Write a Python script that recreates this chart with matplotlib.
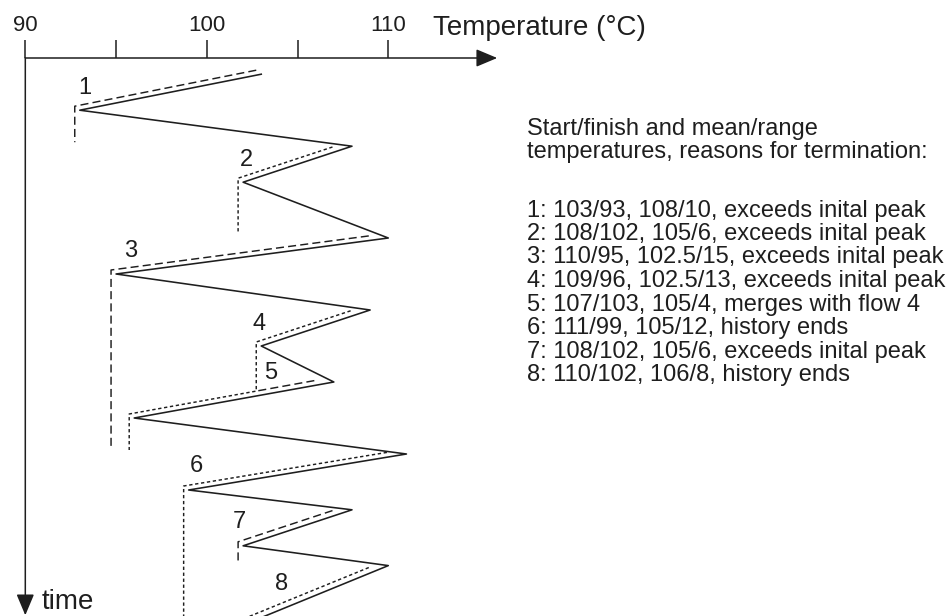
import matplotlib
matplotlib.use("Agg")
import matplotlib.pyplot as plt
from matplotlib import transforms
from matplotlib.patches import ArrowStyle

plt.rcParams["font.family"] = ["Liberation Sans", "DejaVu Sans"]
plt.rcParams["lines.scale_dashes"] = False

# Temperature history: alternating peaks and valleys (deg C) and their times
temps = [103, 93, 108, 102, 110, 95, 109, 103, 107, 96, 111, 99, 108, 102, 110, 102]
times = [0.45, 1.45, 2.45, 3.45, 5.0, 6.0, 7.0, 8.0, 9.0, 10.0, 11.0, 12.0,
         12.55, 13.55, 14.1, 15.75]

major_ticks = [90, 100, 110]
minor_ticks = [95, 105]
axis_end = 116.0

header_lines = ["Start/finish and mean/range",
                "temperatures, reasons for termination:"]
summary_lines = [
    "1: 103/93, 108/10, exceeds inital peak",
    "2: 108/102, 105/6, exceeds inital peak",
    "3: 110/95, 102.5/15, exceeds inital peak",
    "4: 109/96, 102.5/13, exceeds inital peak",
    "5: 107/103, 105/4, merges with flow 4",
    "6: 111/99, 105/12, history ends",
    "7: 108/102, 105/6, exceeds inital peak",
    "8: 110/102, 106/8, history ends",
]

# where each flow number is written (temperature, time)
label_anchor = [(93.3, 0.75), (102.2, 2.75), (95.8, 5.28), (102.9, 7.33),
                (103.5, 8.69), (99.4, 11.25), (101.8, 12.81), (104.1, 14.53)]

INK = "#1e1e1e"
START_INSET = 0.8   # deg C: flows begin a little below their peak


def rainflow_paths(T, t):
    """Trace the falling rainflow from every peak of the history."""
    n = len(T)
    landings = {}
    flows = []
    for p in range(0, n - 1, 2):
        top = T[p]
        path = [(T[p], t[p])]
        j, cur = p, T[p]
        while True:
            T0, t0, T1, t1 = T[j], t[j], T[j + 1], t[j + 1]
            if j in landings and landings[j] < cur:
                tm = landings[j]
                path.append((tm, t0 + (T0 - tm) / (T0 - T1) * (t1 - t0)))
                break
            path.append((T1, t1))
            if j + 1 == n - 1:
                break
            v = T1
            k = j + 2
            landed = False
            stopped = False
            while k < n:
                if T[k] >= top:
                    path.append((v, t[k]))
                    stopped = True
                    break
                if k + 1 < n and T[k] > v > T[k + 1]:
                    tl = t[k] + (T[k] - v) / (T[k] - T[k + 1]) * (t[k + 1] - t[k])
                    path.append((v, tl))
                    landings[k] = v
                    landed = True
                    break
                k += 2
            if not landed and not stopped:
                path.append((v, t[-1]))
            if not landed:
                break
            j, cur = k, v
        if p > 0:
            frac = START_INSET / (T[p] - T[p + 1])
            path[0] = (T[p] - START_INSET, t[p] + frac * (t[p + 1] - t[p]))
        flows.append(path)
    return flows


fig = plt.figure(figsize=(9.48, 6.16), dpi=100)
W, H = 948, 616
x0_px, y0_px = 25.3, 58.0
px_per_deg = 18.15
px_per_time = 36.0
ax = fig.add_axes([x0_px / W, 0, 1 - x0_px / W, 1 - y0_px / H])
ax.set_xlim(90, 90 + (W - x0_px) / px_per_deg)
ax.set_ylim((H - y0_px) / px_per_time, 0)
for s in ax.spines.values():
    s.set_visible(False)

ax.xaxis.tick_top()
ax.set_xticks(major_ticks)
ax.set_xticks(minor_ticks, minor=True)
ax.set_xticklabels([str(v) for v in major_ticks])
ax.tick_params(axis="x", which="both", direction="out", length=13, width=1.1,
               color=INK, top=True, bottom=False, labeltop=True,
               labelbottom=False, labelsize=16, pad=2.5, labelcolor=INK)
ax.set_yticks([])

arrow = ArrowStyle("-|>", head_length=1.0, head_width=0.42)
ymax = ax.get_ylim()[0]
ax.annotate("", xy=(axis_end, 0), xytext=(90, 0),
            arrowprops=dict(arrowstyle=arrow, mutation_scale=13, lw=1.1,
                            color=INK, shrinkA=0, shrinkB=0),
            annotation_clip=False)
ax.annotate("", xy=(90, ymax - 0.02), xytext=(90, 0),
            arrowprops=dict(arrowstyle=arrow, mutation_scale=13, lw=1.1,
                            color=INK, shrinkA=0, shrinkB=0),
            annotation_clip=False)

ax.text(112.46, -0.64, "Temperature (\u00b0C)", fontsize=20, color=INK,
        ha="left", va="baseline", clip_on=False)
ax.text(90.92, 15.31, "time", fontsize=20, color=INK, ha="left", va="baseline")

# temperature history
ax.plot(temps, times, color=INK, lw=1.15)

# rainflow paths, drawn just beside the history
shifted = transforms.offset_copy(ax.transData, fig=fig, x=-5, y=4, units="dots")
long_dash = (0, (5.8, 3.0))
short_dash = (0, (2.4, 1.9))
for i, path in enumerate(rainflow_paths(temps, times), start=1):
    xs = [p[0] for p in path]
    ys = [p[1] for p in path]
    ax.plot(xs, ys, color=INK, lw=1.05, transform=shifted,
            linestyle=long_dash if i % 2 else short_dash)

for i, (lt, ltime) in enumerate(label_anchor, start=1):
    ax.text(lt, ltime, str(i), fontsize=17, color=INK, ha="center",
            va="center_baseline")

# explanatory text on the right
text_x = 527 / W
for k, line in enumerate(header_lines):
    fig.text(text_x, 1 - (134.5 + 23.5 * k) / H, line, fontsize=17,
             color=INK, va="baseline")
for k, line in enumerate(summary_lines):
    fig.text(text_x, 1 - (216.5 + 23.5 * k) / H, line, fontsize=17,
             color=INK, va="baseline")

fig.savefig("out.png", dpi=100)
